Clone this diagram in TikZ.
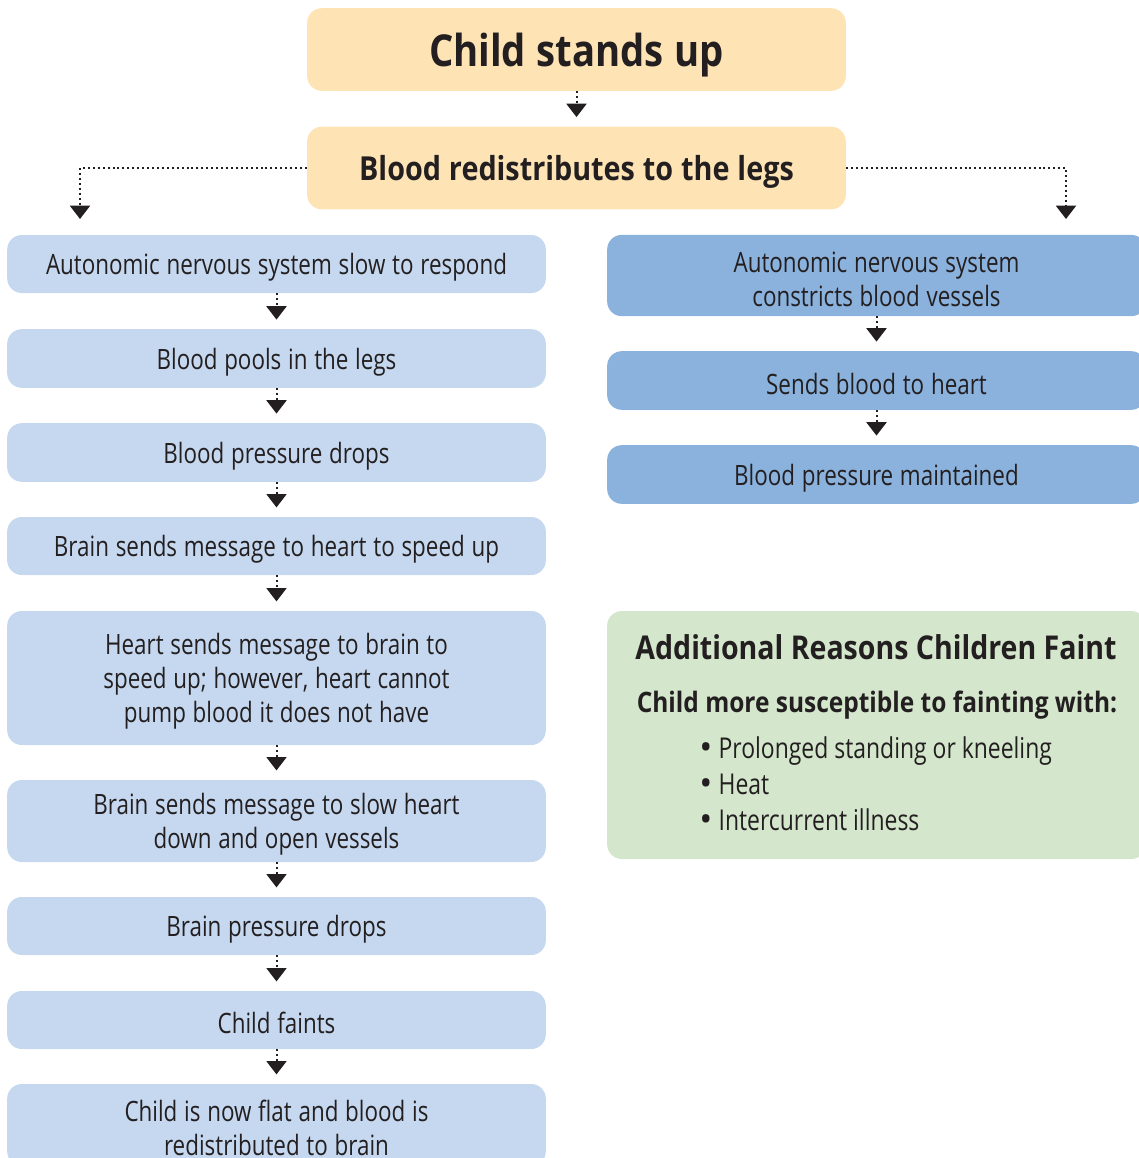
\documentclass[tikz,border=0pt]{standalone}
\usepackage{fontspec}
\setmainfont{Open Sans}[FakeStretch=0.8, BoldFeatures={FakeStretch=0.87}]
\newfontfamily\dotfont{Open Sans}
\usetikzlibrary{positioning, calc, arrows.meta}
\definecolor{peach}{HTML}{FEE3B5}
\definecolor{paleblue}{HTML}{C5D8EF}
\definecolor{midblue}{HTML}{8AB2DD}
\definecolor{palegreen}{HTML}{D4E7CC}
\definecolor{ink}{HTML}{231F20}
\tikzstyle{Arrow} = [
%dotted connector with a solid black head
line width=1.5pt, draw=ink,
dash pattern=on 1.5pt off 2.2pt,
-{Triangle[width=15pt, length=10pt]},
shorten >= 7pt
]
\newcommand{\bul}{\makebox[14.5pt][l]{\raisebox{-1pt}{\dotfont\fontsize{26}{1}\selectfont\textbullet}}}
\begin{document}
\begin{tikzpicture}[x=0.75pt, y=-0.75pt,
			box/.style = {rectangle, rounded corners=11pt, text centered, inner sep=0pt, minimum width=404pt, text width=390pt, text=ink, font=\fontsize{21}{25.5}\selectfont, execute at begin node={\spaceskip=0.24em\relax\rule{0pt}{21pt}}},
			top/.style = {box, fill=peach, font=\bfseries\fontsize{24.8}{28}\selectfont, execute at begin node={\rule{0pt}{25pt}}},
			step1/.style = {box, fill=paleblue},
			step2/.style = {box, fill=midblue},
			note/.style = {box, fill=palegreen},
		]
		\useasboundingbox (0,0) rectangle (1139,1158);
		\clip (0,0) rectangle (1139,1158);
		\node[top, minimum height=62pt, font=\bfseries\fontsize{33}{38}\selectfont, execute at begin node={\rule{0pt}{34pt}}](stand) at (576.5,49.5){Child stands up};
		\node[top, minimum height=62pt](redist) at (576.5,168){Blood redistributes to the legs};

		% left column
		\node[step1, minimum height=43.5pt](L1) at (276.5,264){Autonomic nervous system slow to respond};
		\node[step1, minimum height=44pt](L2) at (276.5,358.5){Blood pools in the legs};
		\node[step1, minimum height=44pt](L3) at (276.5,452.5){Blood pressure drops};
		\node[step1, minimum height=43.5pt](L4) at (276.5,546){Brain sends message to heart to speed up};
		\node[step1, minimum height=100.5pt](L5) at (276.5,678){Heart sends message to brain to\\speed up; however, heart cannot\\pump blood it does not have};
		\node[step1, minimum height=61.5pt](L6) at (276.5,821){Brain sends message to slow heart\\down and open vessels};
		\node[step1, minimum height=43.5pt](L7) at (276.5,926){Brain pressure drops};
		\node[step1, minimum height=43.5pt](L8) at (276.5,1020){Child faints};
		\node[step1, minimum height=61.5pt](L9) at (276.5,1125){Child is now flat and blood is\\redistributed to brain};

		% right column
		\node[step2, minimum height=61pt](R1) at (876.5,275.5){Autonomic nervous system\\constricts blood vessels};
		\node[step2, minimum height=44pt](R2) at (876.5,380.5){Sends blood to heart};
		\node[step2, minimum height=44pt](R3) at (876.5,474.5){Blood pressure maintained};

		\node[note, minimum height=186pt](extra) at (876.5,735){};
		\node[text=ink, font=\bfseries\fontsize{24.6}{28}\selectfont](extraT) at (876,647){Additional Reasons Children Faint};
		\node[text=ink, font=\bfseries\fontsize{21.1}{24}\selectfont](extraS) at (877,705){Child more susceptible to fainting with:};
		\node[text=ink, anchor=west, align=left, inner sep=0pt, font=\fontsize{21.5}{27}\selectfont](extraL) at (699,784){\bul Prolonged standing or kneeling\\\bul Heat\\\bul Intercurrent illness};

		\coordinate(LTip) at (80,219);
		\coordinate(RTip) at (1066,219);

		\draw[Arrow](stand)--(redist);
		\draw[Arrow, shorten >=0pt](redist.west)-|(LTip);
		\draw[Arrow, shorten >=0pt](redist.east)-|(RTip);
		\foreach \a/\b in {L1/L2, L2/L3, L3/L4, L4/L5, L5/L6, L6/L7, L7/L8, L8/L9, R1/R2, R2/R3}
			\draw[Arrow](\a)--(\b);
	\end{tikzpicture}
\end{document}
